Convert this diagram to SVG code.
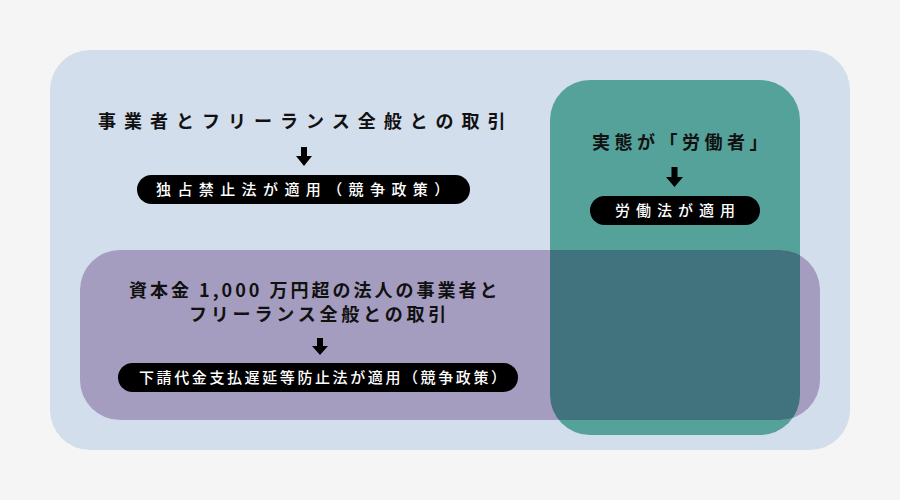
<svg xmlns="http://www.w3.org/2000/svg" width="900" height="500" viewBox="0 0 900 500">
<defs>
<style>
.t{font-family:"Noto Sans CJK JP","Noto Sans",sans-serif;font-weight:700;fill:#111}
.w{font-family:"Noto Sans CJK JP","Noto Sans",sans-serif;font-weight:500;fill:#fff;font-size:15px}
.pill{fill:#000}
.arr{fill:#000}
</style>
<clipPath id="tealClip"><rect x="550" y="80" width="250" height="355" rx="40"/></clipPath>
</defs>
<rect width="900" height="500" fill="#f5f5f5"/>
<g id="outer"><rect x="50" y="50" width="800" height="400" rx="40" fill="#d2deeb"/></g>
<g id="teal-area"><rect x="550" y="80" width="250" height="355" rx="40" fill="#54a29a"/></g>
<g id="purple-area">
<rect x="80" y="250" width="740" height="170" rx="40" fill="#a59dc0"/>
<rect x="80" y="250" width="740" height="170" rx="40" fill="#41737e" clip-path="url(#tealClip)"/>
</g>
<g id="node-general">
<text class="t" x="98" y="128" font-size="18" letter-spacing="8">事業者とフリーランス全般との取引</text>
</g>
<g id="node-antimonopoly">
<rect class="pill" x="137" y="175" width="333" height="29" rx="14.5"/>
<text class="w" x="156" y="195" letter-spacing="6.4">独占禁止法が適用（競争政策）</text>
</g>
<g id="node-worker">
<text class="t" x="592" y="149" font-size="18" letter-spacing="4.5">実態が「労働者」</text>
</g>
<g id="node-labor">
<rect class="pill" x="590" y="196" width="170" height="29" rx="14.5"/>
<text class="w" x="615" y="215.5" letter-spacing="6">労働法が適用</text>
</g>
<g id="node-capital">
<text class="t" x="129" y="297" font-size="18" letter-spacing="3">資本金 1,000 万円超の法人の事業者と</text>
<text class="t" x="189" y="321" font-size="18" letter-spacing="3.8">フリーランス全般との取引</text>
</g>
<g id="node-subcontract">
<rect class="pill" x="118" y="363" width="400" height="29" rx="14.5"/>
<text class="w" x="139" y="383" letter-spacing="2.6">下請代金支払遅延等防止法が適用（競争政策）</text>
</g>
<g id="connectors">
<polygon class="arr" points="301,147 307,147 307,156 312,156 304,166 296,156 301,156"/>
<polygon class="arr" points="671.5,167 677.5,167 677.5,177 683,177 674.5,187 666,177 671.5,177"/>
<polygon class="arr" points="317,338 323,338 323,346 328,346 320,355 312,346 317,346"/>
</g>
</svg>
